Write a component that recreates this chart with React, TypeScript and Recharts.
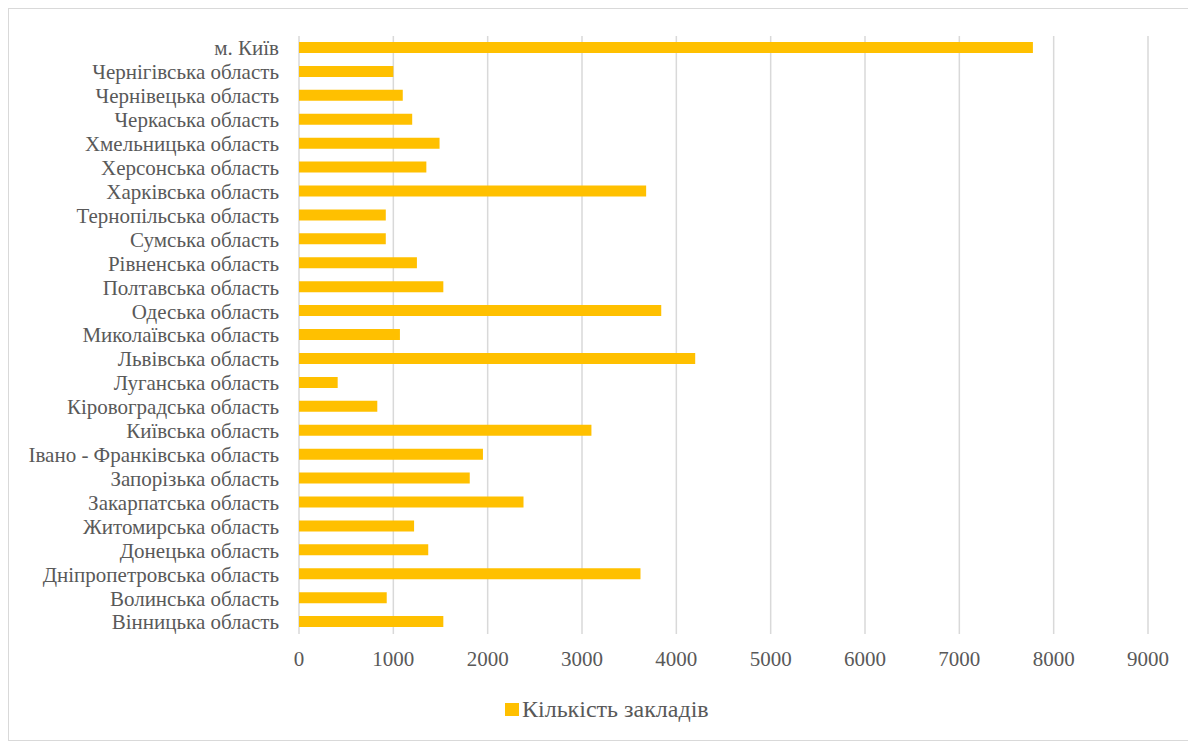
import { BarChart, Bar, XAxis, YAxis, CartesianGrid, Legend } from 'recharts';

// regions listed top to bottom as they appear on the chart
const regions = [
  'м. Київ',
  'Чернігівська область',
  'Чернівецька область',
  'Черкаська область',
  'Хмельницька область',
  'Херсонська область',
  'Харківська область',
  'Тернопільська область',
  'Сумська область',
  'Рівненська область',
  'Полтавська область',
  'Одеська область',
  'Миколаївська область',
  'Львівська область',
  'Луганська область',
  'Кіровоградська область',
  'Київська область',
  'Івано - Франківська область',
  'Запорізька область',
  'Закарпатська область',
  'Житомирська область',
  'Донецька область',
  'Дніпропетровська область',
  'Волинська область',
  'Вінницька область',
];

const counts = [
  7780, 1000, 1100, 1200, 1490, 1350, 3680, 920, 920, 1250, 1530, 3840, 1070,
  4200, 410, 830, 3100, 1950, 1810, 2380, 1220, 1370, 3620, 930, 1530,
];

const xTicks = [0, 1000, 2000, 3000, 4000, 5000, 6000, 7000, 8000, 9000];

const seriesName = 'Кількість закладів';

const data = regions.map((name, i) => ({ name, value: counts[i] }));

const FONT = 'Liberation Serif, Tinos, Times New Roman, DejaVu Serif, serif';
const GOLD = '#FFC000';
const TEXT = '#595959';

// legend drawn as svg so it uses the same serif face as the axis labels
function LegendContent() {
  return (
    <svg width={250} height={32} style={{ display: 'block', overflow: 'visible' }}>
      <rect x={0} y={4} width={14} height={13} fill={GOLD} />
      <text x={17} y={18} fontSize={24} fontFamily={FONT} fill={TEXT}>
        {seriesName}
      </text>
    </svg>
  );
}

export default function App() {
  return (
    <div style={{ width: 1183, height: 733, border: '1px solid #d9d9d9', boxSizing: 'border-box', background: '#fff' }}>
      <BarChart
        width={1181}
        height={731}
        data={data}
        layout="vertical"
        margin={{ top: 27, right: 42, bottom: 76, left: 0 }}
        barCategoryGap={0}
      >
        <CartesianGrid horizontal={false} stroke="#d9d9d9" strokeWidth={1.5} />
        <XAxis
          type="number"
          domain={[0, 9000]}
          ticks={xTicks}
          interval={0}
          height={30}
          axisLine={false}
          tickLine={false}
          tickSize={0}
          tickMargin={17}
          tick={{ fill: TEXT, fontSize: 21, fontFamily: FONT }}
        />
        <YAxis
          type="category"
          dataKey="name"
          width={290}
          interval={0}
          axisLine={false}
          tickLine={false}
          tickSize={0}
          tickMargin={20}
          tick={{ fill: TEXT, fontSize: 21, fontFamily: FONT }}
        />
        <Legend
          layout="horizontal"
          verticalAlign="middle"
          align="center"
          content={<LegendContent />}
          wrapperStyle={{ top: 690, left: 496, width: 250 }}
        />
        <Bar dataKey="value" name={seriesName} fill={GOLD} barSize={11} isAnimationActive={false} />
      </BarChart>
    </div>
  );
}
